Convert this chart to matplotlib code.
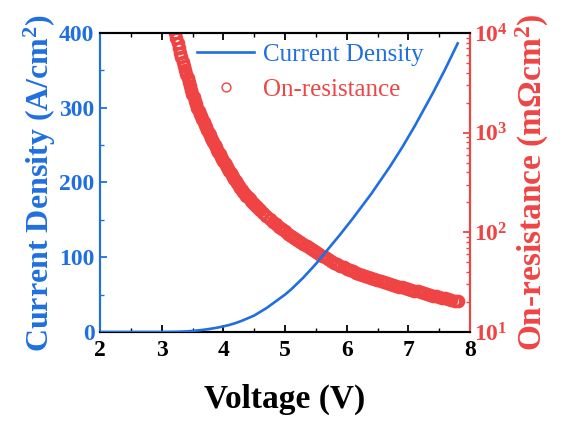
import matplotlib
matplotlib.use("Agg")
import matplotlib.pyplot as plt
from matplotlib.ticker import MultipleLocator, LogLocator, NullFormatter, FixedLocator

plt.rcParams['font.family'] = ['Liberation Serif', 'DejaVu Serif']
plt.rcParams['mathtext.fontset'] = 'custom'
plt.rcParams['mathtext.rm'] = 'Liberation Serif:bold'
plt.rcParams['mathtext.bf'] = 'Liberation Serif:bold'
plt.rcParams['mathtext.it'] = 'Liberation Serif:italic:bold'

BLUE = '#1F6FE0'
RED = '#F04444'

# Current density (A/cm^2) vs voltage (V)
v_j = [2.0, 2.5, 3.0, 3.2, 3.3, 3.4, 3.5, 3.6, 3.7, 3.8, 3.9, 4.0, 4.1, 4.2, 4.3,
       4.4, 4.5, 4.6, 4.7, 4.8, 4.9, 5.0, 5.1, 5.2, 5.3, 5.4, 5.5, 5.6, 5.7, 5.8,
       5.9, 6.0, 6.1, 6.2, 6.3, 6.4, 6.5, 6.6, 6.7, 6.8, 6.9, 7.0, 7.1, 7.2, 7.3,
       7.4, 7.5, 7.6, 7.7, 7.8]
current_density = [0, 0, 0, 0.2, 0.4, 0.8, 1.4, 2.2, 3.2, 4.4, 5.8, 7.5, 9.5, 12, 15,
                   18.5, 22, 27, 32, 38, 44, 50, 57, 65, 73, 82, 91, 101, 111, 121,
                   131, 141.5, 152, 163, 174, 185, 197, 209, 221, 234, 247, 261, 275, 290, 305,
                   320, 336, 352, 369, 386]

# On-resistance (mOhm cm^2) vs voltage (V)
v_r = [3.20, 3.22, 3.24, 3.26, 3.28, 3.30, 3.32, 3.34, 3.36, 3.38, 3.40, 3.42, 3.44,
       3.46, 3.48, 3.50, 3.52, 3.54, 3.56, 3.58, 3.60, 3.62, 3.64, 3.66, 3.68, 3.70,
       3.72, 3.74, 3.76, 3.78, 3.80, 3.82, 3.84, 3.86, 3.88, 3.90, 3.92, 3.94, 3.96,
       3.98, 4.00, 4.02, 4.04, 4.06, 4.08, 4.10, 4.12, 4.14, 4.16, 4.18, 4.20,
       4.225, 4.25, 4.275, 4.30, 4.325, 4.35, 4.375, 4.40, 4.425, 4.45, 4.475,
       4.50, 4.525, 4.55, 4.575, 4.60, 4.65, 4.70, 4.75, 4.80, 4.85, 4.90, 4.95, 5.00, 5.05, 5.10,
       5.15, 5.20, 5.25, 5.30, 5.35, 5.40, 5.45, 5.50, 5.55, 5.60, 5.65, 5.70, 5.75,
       5.80, 5.85, 5.90, 5.95, 6.00, 6.05, 6.10, 6.15, 6.20, 6.25, 6.30, 6.35, 6.40,
       6.45, 6.50, 6.55, 6.60, 6.65, 6.70, 6.75, 6.80, 6.85, 6.90, 6.95, 7.00, 7.05,
       7.10, 7.15, 7.20, 7.25, 7.30, 7.35, 7.40, 7.45, 7.50, 7.55, 7.60, 7.65, 7.70,
       7.75, 7.80]
on_resistance = [11220, 10000, 8913, 7943, 7079, 6310, 5690, 5130, 4645, 4217, 3846, 3508, 3199,
                 2924, 2673, 2455, 2265, 2089, 1928, 1786, 1660, 1556, 1459, 1368, 1282, 1202,
                 1130, 1062, 998, 942, 891, 843, 798, 755, 714, 676, 640, 605, 574,
                 545, 519, 494, 472, 451, 430, 411, 394, 377, 361, 345, 331,
                 313, 295, 281, 268, 256, 245, 234, 224, 216, 207, 199,
                 191, 184.5, 178, 172, 166, 155, 146, 137, 127, 120, 113.5, 107.6, 102.1, 97.0, 92.3,
                 87.9, 83.8, 80.0, 75.9, 72.4, 69.2, 66.2, 63.5, 61.0, 58.5, 56.1, 53.8, 51.8,
                 49.8, 48.0, 46.2, 44.7, 43.2, 41.8, 40.6, 39.4, 38.3, 37.2, 36.3, 35.4, 34.6,
                 33.8, 33.0, 32.4, 31.7, 31.0, 30.4, 29.8, 29.2, 28.6, 28.0, 27.4, 26.9, 26.4,
                 25.9, 25.5, 25.0, 24.5, 24.1, 23.7, 23.2, 22.8, 22.4, 22.1, 21.7, 21.4, 21.0,
                 20.7, 20.4]

x_ticks = [2, 3, 4, 5, 6, 7, 8]
y_left_ticks = [0, 100, 200, 300, 400]
y_right_ticks = [10, 100, 1000, 10000]
y_right_labels = [r'$\mathregular{10^{1}}$', r'$\mathregular{10^{2}}$',
                  r'$\mathregular{10^{3}}$', r'$\mathregular{10^{4}}$']

fig = plt.figure(figsize=(5.62, 4.21), dpi=100)
ax = fig.add_axes([100/562, 1-332/421, 370/562, 299/421])
ax2 = ax.twinx()

l1, = ax.plot(v_j, current_density, color=BLUE, lw=1.9, label='Current Density', zorder=3)
l2, = ax2.plot(v_r, on_resistance, ls='none', marker='o', ms=7.5, mfc='none', mec=RED,
               mew=2.3, label='On-resistance')

ax.set_xlim(2, 8)
ax.set_ylim(0, 400)
ax2.set_yscale('log')
ax2.set_ylim(10, 10000)

ax.set_xticks(x_ticks)
ax.xaxis.set_minor_locator(MultipleLocator(0.5))
ax.set_yticks(y_left_ticks)
ax.yaxis.set_minor_locator(MultipleLocator(50))
ax2.yaxis.set_major_locator(FixedLocator(y_right_ticks))
ax2.set_yticklabels(y_right_labels)
ax2.yaxis.set_minor_locator(LogLocator(base=10, subs=range(2, 10), numticks=20))
ax2.yaxis.set_minor_formatter(NullFormatter())

for a in (ax, ax2):
    for s in a.spines.values():
        s.set_linewidth(1.5)
ax.spines['left'].set_color(BLUE)
ax.spines['right'].set_color(RED)
ax2.spines['left'].set_color(BLUE)
ax2.spines['right'].set_color(RED)
ax.spines['top'].set_color('black')
ax.spines['bottom'].set_color('black')

ax.tick_params(axis='x', which='both', direction='in', top=True, colors='black',
               labelsize=17, pad=6)
ax.tick_params(axis='x', which='major', length=5, width=1.3)
ax.tick_params(axis='x', which='minor', length=3, width=1.0)
ax.tick_params(axis='y', which='both', direction='in', colors=BLUE, labelsize=17, pad=4)
ax.tick_params(axis='y', which='major', length=5, width=1.3)
ax.tick_params(axis='y', which='minor', length=3, width=1.0)
ax2.tick_params(axis='y', which='both', direction='in', colors=RED, labelsize=17, pad=3)
ax2.tick_params(axis='y', which='major', length=5, width=1.3)
ax2.tick_params(axis='y', which='minor', length=3, width=1.0)
for lab in ax.get_xticklabels() + ax.get_yticklabels() + ax2.get_yticklabels():
    lab.set_fontweight('bold')

ax.set_xlabel('Voltage (V)', fontsize=24, fontweight='bold', labelpad=16)
ax.set_ylabel(r'Current Density (A/cm$^{2}$)', fontsize=23, fontweight='bold',
              color=BLUE, labelpad=1)
ax2.set_ylabel(r'On-resistance (m$\Omega$cm$^{2}$)', fontsize=24, fontweight='bold',
               color=RED, labelpad=4)

leg = ax.legend([l1, l2], ['Current Density', 'On-resistance'], loc='upper left',
                bbox_to_anchor=(0.262, 0.965), frameon=False, fontsize=18,
                handlelength=2.3, handletextpad=0.35, borderpad=0, borderaxespad=0,
                labelspacing=0.5, markerscale=0.85)
leg.get_texts()[0].set_color(BLUE)
leg.get_texts()[1].set_color(RED)
leg.legend_handles[1].set_markeredgewidth(1.0)
ax.set_zorder(ax2.get_zorder() + 1)
ax.patch.set_visible(False)

fig.savefig('out.png', dpi=100)
